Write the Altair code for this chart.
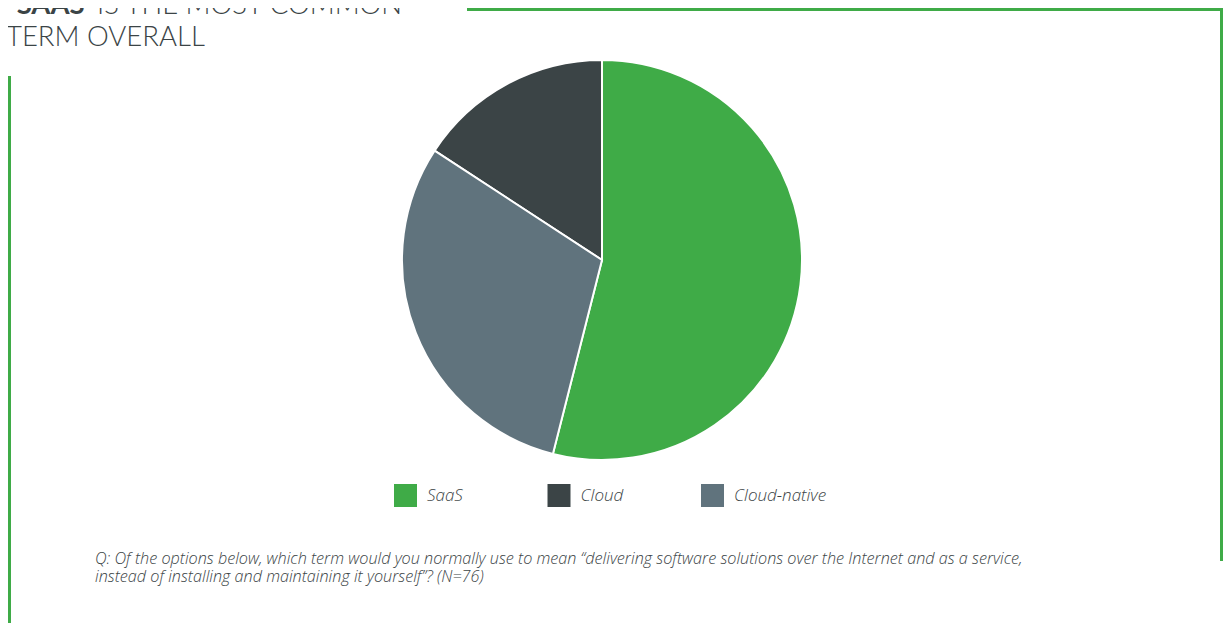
import altair as alt
import pandas as pd

categories = ["SaaS", "Cloud", "Cloud-native"]
counts = [41, 12, 23]
pie_order = [0, 2, 1]
colors = ["#3fab47", "#3b4446", "#60737d"]

title_bold = "“SAAS”"
title_rest = "IS THE MOST COMMON"
title_line2 = "TERM OVERALL"
note_line1 = "Q: Of the options below, which term would you normally use to mean “delivering software solutions over the Internet and as a service,"
note_line2 = "instead of installing and maintaining it yourself”? (N=76)"

df = pd.DataFrame({"term": categories, "count": counts, "ord": pie_order})
one = pd.DataFrame({"a": [0]})

GREEN = "#3fab47"
DARK = "#3b4446"
W, H = 1215, 615

pie = alt.Chart(df).mark_arc(outerRadius=200, stroke="white", strokeWidth=2).encode(
    theta=alt.Theta("count:Q", stack=True),
    order=alt.Order("ord:Q"),
    color=alt.Color(
        "term:N",
        scale=alt.Scale(domain=categories, range=colors),
        legend=alt.Legend(
            title=None,
            orient="none",
            legendX=386,
            legendY=476,
            direction="horizontal",
            gridAlign="all",
            columnPadding=27.5,
            padding=0,
            symbolType="square",
            symbolSize=529,
            symbolStrokeWidth=0,
            symbolOpacity=1,
            labelOffset=10,
            labelFont="Open Sans",
            labelFontStyle="italic",
            labelFontWeight=300,
            labelFontSize=17,
            labelColor=DARK,
        ),
    ),
    x=alt.value(594),
    y=alt.value(252),
)

def txt(s, x, y, size, weight="normal", style="normal", color=DARK, font="Open Sans"):
    return alt.Chart(one).mark_text(
        align="left", baseline="alphabetic", font=font, fontSize=size,
        fontWeight=weight, fontStyle=style, color=color,
    ).encode(x=alt.value(x), y=alt.value(y), text=alt.value(s))

t1 = txt(title_bold, -2, 6, 27.5, weight="bold", font="Lato")
t2 = txt(title_rest, 89, 6, 27.5, weight=300, font="Lato")
t3 = txt(title_line2, -2, 38, 27.5, weight=300, font="Lato")
n1 = txt(note_line1, 87, 556, 16.2, weight=300, style="italic")
n2 = txt(note_line2, 87, 574, 16.2, weight=300, style="italic")

top_line = alt.Chart(one).mark_rule(color=GREEN, strokeWidth=3).encode(
    x=alt.value(459), x2=alt.value(1215), y=alt.value(1.5))
right_line = alt.Chart(one).mark_rule(color=GREEN, strokeWidth=3).encode(
    x=alt.value(1213.5), y=alt.value(0), y2=alt.value(553))
left_line = alt.Chart(one).mark_rule(color=GREEN, strokeWidth=3).encode(
    x=alt.value(1.5), y=alt.value(68), y2=alt.value(H))

chart = alt.layer(pie, t1, t2, t3, n1, n2, top_line, right_line, left_line).properties(
    width=W, height=H,
    autosize=alt.AutoSizeParams(type="none"),
    padding=0,
).configure_view(stroke=None)

chart.save("out.html", embed_options={"renderer": "svg", "actions": False})
